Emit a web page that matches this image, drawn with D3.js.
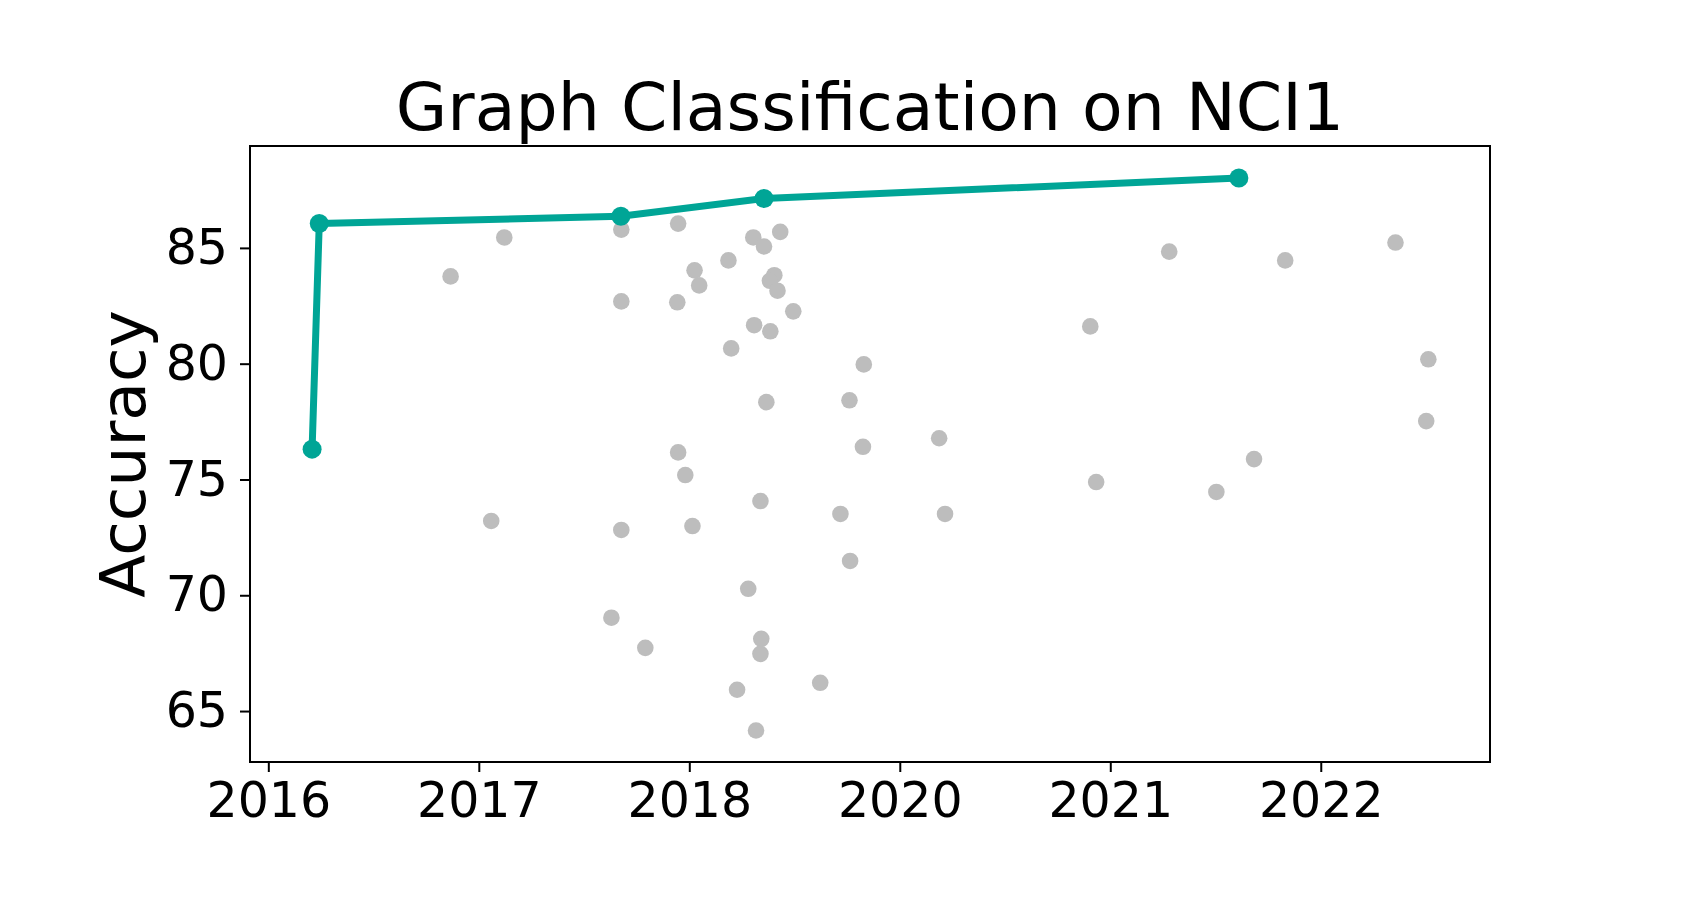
<!DOCTYPE html>
<html>
<head>
<meta charset="utf-8">
<script src="https://cdn.jsdelivr.net/npm/d3@7"></script>
<style>
  html, body { margin: 0; padding: 0; background: #fff; }
  svg text { font-family: "DejaVu Sans", sans-serif; fill: #000; }
</style>
</head>
<body>
<div id="chart"></div>
<script>
// best model over time (the teal line)
const bestYears = [2016.208, 2016.242, 2017.675, 2018.355, 2020.611];
const bestAcc = [76.31, 86.05, 86.37, 87.13, 88.02];

// every other reported result (grey dots)
const otherYears = [
    2017.121, 2016.866, 2017.677, 2017.947, 2018.304, 2018.432, 2018.355, 2018.186,
    2018.025, 2018.047, 2018.404, 2018.383, 2018.419, 2017.677, 2017.943, 2018.494,
    2018.308, 2018.385, 2018.199, 2018.829, 2018.366, 2018.761, 2018.825, 2017.947,
    2017.981, 2018.338, 2018.718, 2017.059, 2017.677, 2018.015, 2018.764, 2018.280,
    2017.630, 2017.791, 2018.342, 2018.338, 2018.227, 2018.622, 2018.317,
    2020.280, 2020.831, 2021.355, 2019.905, 2021.511, 2021.501, 2019.187, 2020.683,
    2019.933, 2020.504, 2019.215
];
const otherAcc = [
    85.45, 83.77, 85.79, 86.05, 85.45, 85.69, 85.06, 84.46,
    84.03, 83.38, 83.82, 83.58, 83.15, 82.69, 82.65, 82.26,
    81.66, 81.40, 80.66, 79.97, 78.34, 78.42, 76.41, 76.17,
    75.19, 74.07, 73.51, 73.21, 72.82, 72.99, 71.48, 70.28,
    69.03, 67.73, 68.12, 67.47, 65.92, 66.22, 64.16,
    84.84, 84.46, 85.23, 81.61, 80.19, 77.52, 76.78, 75.88,
    74.89, 74.46, 73.51
];

// tick positions and the labels printed under them
const xTickValues = [2016, 2017, 2018, 2019, 2020, 2021];
const xTickLabels = ['2016', '2017', '2018', '2020', '2021', '2022'];
const yTickValues = [65, 70, 75, 80, 85];

const WIDTH = 1700;
const HEIGHT = 900;
const MARGINS = { top: 146, right: 210, bottom: 138, left: 250 };

const svg = d3.select('#chart')
    .append('svg')
    .attr('width', WIDTH)
    .attr('height', HEIGHT);

svg.append('rect')
    .attr('width', WIDTH)
    .attr('height', HEIGHT)
    .attr('fill', '#fff');

const xScale = d3.scaleLinear()
    .domain([2015.913, 2021.804])
    .range([MARGINS.left, WIDTH - MARGINS.right]);

const yScale = d3.scaleLinear()
    .domain([62.80, 89.40])
    .range([HEIGHT - MARGINS.bottom, MARGINS.top]);

// axes
const xAxis = d3.axisBottom(xScale)
    .tickValues(xTickValues)
    .tickFormat((d, i) => xTickLabels[i])
    .tickSize(10)
    .tickPadding(10);

const yAxis = d3.axisLeft(yScale)
    .tickValues(yTickValues)
    .tickFormat(d3.format('d'))
    .tickSize(10)
    .tickPadding(12);

const gx = svg.append('g')
    .attr('class', 'x-axis')
    .attr('transform', `translate(0, ${HEIGHT - MARGINS.bottom})`)
    .call(xAxis);

const gy = svg.append('g')
    .attr('class', 'y-axis')
    .attr('transform', `translate(${MARGINS.left}, 0)`)
    .call(yAxis);

[gx, gy].forEach(g => {
    g.select('.domain').remove();
    g.selectAll('.tick line').attr('stroke', '#000').attr('stroke-width', 2);
    g.selectAll('.tick text')
        .attr('fill', '#000')
        .style('font-family', '"DejaVu Sans", sans-serif')
        .style('font-size', '49px');
});

// frame round the plot
svg.append('rect')
    .attr('x', MARGINS.left)
    .attr('y', MARGINS.top)
    .attr('width', WIDTH - MARGINS.left - MARGINS.right)
    .attr('height', HEIGHT - MARGINS.top - MARGINS.bottom)
    .attr('fill', 'none')
    .attr('stroke', '#000')
    .attr('stroke-width', 2);

// grey dots
svg.selectAll('circle.other')
    .data(d3.range(otherYears.length))
    .join('circle')
        .attr('class', 'other')
        .attr('cx', i => xScale(otherYears[i]))
        .attr('cy', i => yScale(otherAcc[i]))
        .attr('r', 8.3)
        .attr('fill', '#bdbdbd');

// best line
const line = d3.line()
    .x(i => xScale(bestYears[i]))
    .y(i => yScale(bestAcc[i]));

svg.append('path')
    .datum(d3.range(bestYears.length))
    .attr('d', line)
    .attr('fill', 'none')
    .attr('stroke', '#00a596')
    .attr('stroke-width', 7)
    .attr('stroke-linejoin', 'round');

svg.selectAll('circle.best')
    .data(d3.range(bestYears.length))
    .join('circle')
        .attr('class', 'best')
        .attr('cx', i => xScale(bestYears[i]))
        .attr('cy', i => yScale(bestAcc[i]))
        .attr('r', 9.5)
        .attr('fill', '#00a596');

// title
svg.append('text')
    .attr('x', (MARGINS.left + WIDTH - MARGINS.right) / 2)
    .attr('y', 130)
    .attr('text-anchor', 'middle')
    .style('font-size', '66.5px')
    .text('Graph Classification on NCI1');

// y label
svg.append('text')
    .attr('transform', `translate(145, ${(MARGINS.top + HEIGHT - MARGINS.bottom) / 2}) rotate(-90)`)
    .attr('text-anchor', 'middle')
    .style('font-size', '63px')
    .text('Accuracy');
</script>
</body>
</html>
